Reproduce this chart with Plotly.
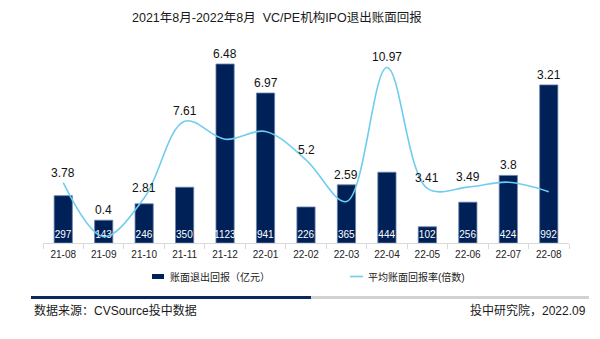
import plotly.graph_objects as go

# ---- data ----
months = ["21-08", "21-09", "21-10", "21-11", "21-12", "22-01", "22-02",
          "22-03", "22-04", "22-05", "22-06", "22-07", "22-08"]
exit_return = [297, 143, 246, 350, 1123, 941, 226, 365, 444, 102, 256, 424, 992]   # 亿元
avg_multiple = [3.78, 0.4, 2.81, 7.61, 6.48, 6.97, 5.2, 2.59, 10.97, 3.41, 3.49, 3.8, 3.21]

title_text = "2021年8月-2022年8月  VC/PE机构IPO退出账面回报"
bar_name = "账面退出回报（亿元）"
line_name = "平均账面回报率(倍数)"
source_text = "数据来源：CVSource投中数据"
credit_text = "投中研究院，2022.09"

# ---- layout geometry ----
W, H = 600, 339
M_L, M_R, M_T, M_B = 43, 31, 40, 96
PLOT_H = H - M_T - M_B
PLOT_W = W - M_L - M_R
BAR_MAX = PLOT_H / 0.1594
LINE_MAX = PLOT_H / 16.0

NAVY = "#002157"
SKY = "#70cdf0"
FONT = "Liberation Sans, Noto Sans CJK SC, sans-serif"


def px_x(x):
    return (x - M_L) / PLOT_W


def px_y(y):
    return (H - M_B - y) / PLOT_H


fig = go.Figure()

fig.add_trace(go.Bar(
    x=months, y=exit_return, name=bar_name,
    marker=dict(color=NAVY, line=dict(color="#6a84ad", width=0.8)),
    width=0.45,
    text=[str(v) for v in exit_return],
    textposition="inside", insidetextanchor="start",
    textangle=0, constraintext="none",
    insidetextfont=dict(color="white", size=10, family=FONT),
    cliponaxis=False,
    showlegend=False,
))

fig.add_trace(go.Scatter(
    x=months, y=avg_multiple, name=line_name, yaxis="y2",
    mode="lines", line=dict(color=SKY, width=1.6, shape="spline", smoothing=1.0),
    showlegend=False,
))

# value labels of the multiple: sit above whichever is higher, bar or line
annotations = []
for m, b, v in zip(months, exit_return, avg_multiple):
    top = max(v, b * LINE_MAX / BAR_MAX)
    annotations.append(dict(
        x=m, y=top, xref="x", yref="y2", text=f"{v:g}", showarrow=False,
        yanchor="bottom", yshift=1,
        font=dict(size=12, color="#111111", family=FONT),
    ))

# title
annotations.append(dict(
    x=px_x(276.5), y=px_y(17), xref="paper", yref="paper", text=title_text,
    showarrow=False, xanchor="center", yanchor="middle",
    font=dict(size=12.5, color="#1a1a1a", family=FONT),
))

# legend entries
annotations.append(dict(
    x=px_x(168), y=px_y(276.5), xref="paper", yref="paper", text=bar_name,
    showarrow=False, xanchor="left", yanchor="middle",
    font=dict(size=10, color="#222222", family=FONT),
))
annotations.append(dict(
    x=px_x(366), y=px_y(276.5), xref="paper", yref="paper", text=line_name,
    showarrow=False, xanchor="left", yanchor="middle",
    font=dict(size=10, color="#222222", family=FONT),
))

# footer texts
annotations.append(dict(
    x=px_x(32), y=px_y(310), xref="paper", yref="paper", text=source_text,
    showarrow=False, xanchor="left", yanchor="middle",
    font=dict(size=12, color="#1a1a1a", family=FONT),
))
annotations.append(dict(
    x=px_x(588), y=px_y(310), xref="paper", yref="paper", text=credit_text,
    showarrow=False, xanchor="right", yanchor="middle",
    font=dict(size=12, color="#1a1a1a", family=FONT),
))

shapes = [
    # legend swatches
    dict(type="rect", xref="paper", yref="paper",
         x0=px_x(152), x1=px_x(164), y0=px_y(279), y1=px_y(274),
         fillcolor=NAVY, line=dict(width=0)),
    dict(type="line", xref="paper", yref="paper",
         x0=px_x(350), x1=px_x(363), y0=px_y(276.5), y1=px_y(276.5),
         line=dict(color=SKY, width=1.6)),
    # footer rule
    dict(type="line", xref="paper", yref="paper",
         x0=px_x(31), x1=px_x(311), y0=px_y(297.5), y1=px_y(297.5),
         line=dict(color="#0a2a5e", width=3)),
    dict(type="line", xref="paper", yref="paper",
         x0=px_x(311), x1=px_x(589), y0=px_y(297.5), y1=px_y(297.5),
         line=dict(color="#d2d2d2", width=3)),
]

fig.update_layout(
    width=W, height=H,
    margin=dict(l=M_L, r=M_R, t=M_T, b=M_B),
    paper_bgcolor="white", plot_bgcolor="white",
    font=dict(family=FONT, color="#222222"),
    xaxis=dict(
        type="category", showgrid=False,
        showline=True, linecolor="#d9d9d9", linewidth=1,
        ticks="outside", tickson="boundaries", ticklen=5, tickcolor="#d9d9d9",
        ticklabelstandoff=2,
        tickfont=dict(size=10, color="#222222", family=FONT),
    ),
    yaxis=dict(range=[0, BAR_MAX], visible=False, showgrid=False, zeroline=False),
    yaxis2=dict(range=[0, LINE_MAX], overlaying="y", visible=False,
                showgrid=False, zeroline=False),
    annotations=annotations,
    shapes=shapes,
    showlegend=False,
)

fig.write_html("out.html")
